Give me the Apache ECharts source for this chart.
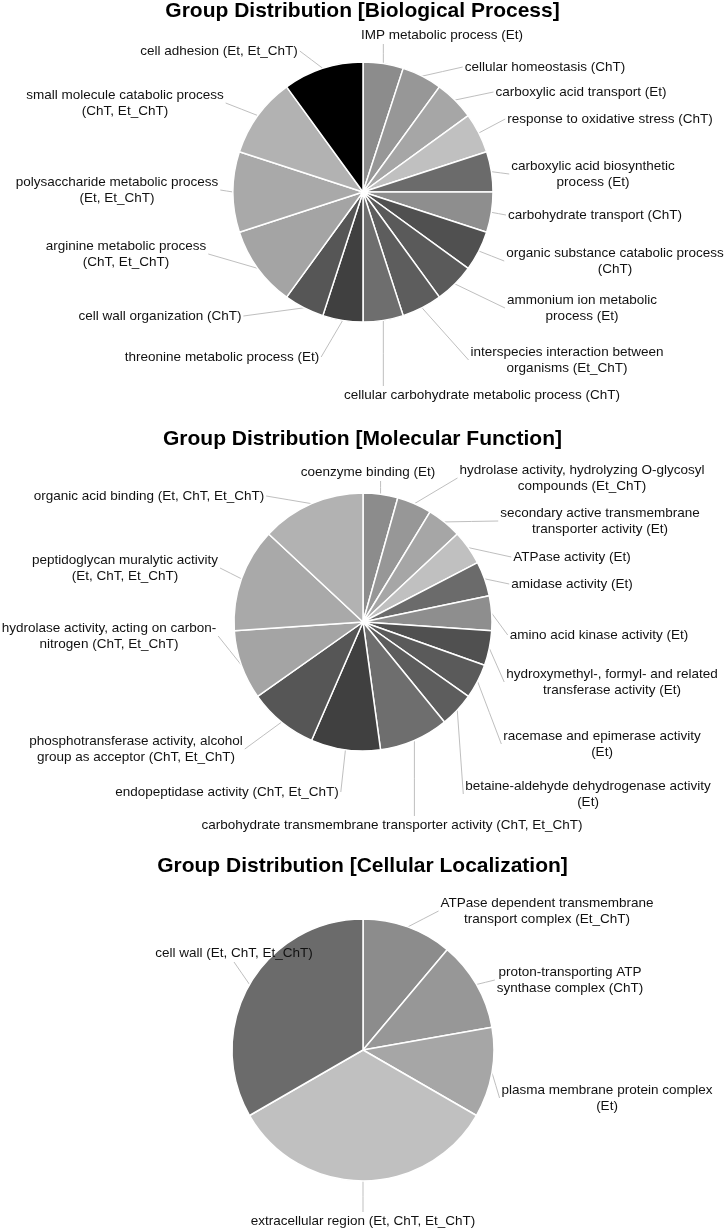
<!DOCTYPE html>
<html><head><meta charset="utf-8">
<script src="https://cdn.jsdelivr.net/npm/echarts@6/dist/echarts.min.js"></script>
<style>html,body{margin:0;padding:0;background:#fff}#c{width:725px;height:1230px}</style>
</head><body><div id="c"></div>
<script>
// ---------- DATA ----------
const titles = [
  'Group Distribution [Biological Process]',
  'Group Distribution [Molecular Function]',
  'Group Distribution [Cellular Localization]'
];
const bpNames = [
  'IMP metabolic process (Et)',
  'cellular homeostasis (ChT)',
  'carboxylic acid transport (Et)',
  'response to oxidative stress (ChT)',
  'carboxylic acid biosynthetic\nprocess (Et)',
  'carbohydrate transport (ChT)',
  'organic substance catabolic process\n(ChT)',
  'ammonium ion metabolic\nprocess (Et)',
  'interspecies interaction between\norganisms (Et_ChT)',
  'cellular carbohydrate metabolic process (ChT)',
  'threonine metabolic process (Et)',
  'cell wall organization (ChT)',
  'arginine metabolic process\n(ChT, Et_ChT)',
  'polysaccharide metabolic process\n(Et, Et_ChT)',
  'small molecule catabolic process\n(ChT, Et_ChT)',
  'cell adhesion (Et, Et_ChT)'
];
const bpValues = [1,1,1,1,1,1,1,1,1,1,1,1,2,2,2,2];

const mfNames = [
  'coenzyme binding (Et)',
  'hydrolase activity, hydrolyzing O-glycosyl\ncompounds (Et_ChT)',
  'secondary active transmembrane\ntransporter activity (Et)',
  'ATPase activity (Et)',
  'amidase activity (Et)',
  'amino acid kinase activity (Et)',
  'hydroxymethyl-, formyl- and related\ntransferase activity (Et)',
  'racemase and epimerase activity\n(Et)',
  'betaine-aldehyde dehydrogenase activity\n(Et)',
  'carbohydrate transmembrane transporter activity (ChT, Et_ChT)',
  'endopeptidase activity (ChT, Et_ChT)',
  'phosphotransferase activity, alcohol\ngroup as acceptor (ChT, Et_ChT)',
  'hydrolase activity, acting on carbon-\nnitrogen (ChT, Et_ChT)',
  'peptidoglycan muralytic activity\n(Et, ChT, Et_ChT)',
  'organic acid binding (Et, ChT, Et_ChT)'
];
const mfValues = [1,1,1,1,1,1,1,1,1,2,2,2,2,3,3];

const clNames = [
  'ATPase dependent transmembrane\ntransport complex (Et_ChT)',
  'proton-transporting ATP\nsynthase complex (ChT)',
  'plasma membrane protein complex\n(Et)',
  'extracellular region (Et, ChT, Et_ChT)',
  'cell wall (Et, ChT, Et_ChT)'
];
const clValues = [1,1,1,3,3];

// ---------- STYLE / LAYOUT ----------
const grays = ['#8c8c8c','#979797','#a6a6a6','#c0c0c0','#6b6b6b','#8e8e8e','#505050','#5a5a5a',
               '#5d5d5d','#6e6e6e','#404040','#565656','#a4a4a4','#a9a9a9','#b2b2b2','#000000'];
const centers = [[363,192],[363,622],[363,1050]];
const radii = [130,129,131];
const titleCenters = [12,440,867];
// label centre positions (x, y) in pixels
const labelPos = [
  [[442,35],[545,67],[581,92],[610,119],[593,174],[595,215],[615,261],[582,308],[567,360],
   [482,395],[222,357],[160,316],[126,254],[117,190],[125,103],[219,51]],
  [[368,472],[582,478],[600,521],[572,557],[572,584],[599,635],[612,682],[602,744],[588,794],
   [392,825],[227,792],[136,749],[109,636],[125,568],[149,496]],
  [[547,911],[570,980],[607,1098],[363,1221],[234,953]]
];
// optional leader attachment override ('bc' = bottom centre)
const labelAnchor = [[], [], [null, null, null, null, 'bc']];

function leader(P, r, anchor) {
  let E;
  if (anchor === 'bc') E = [r.x + r.w / 2, r.y + r.h + 1];
  else if (P[0] < r.x) E = [r.x - 2, r.y + r.h / 2];
  else if (P[0] > r.x + r.w) E = [r.x + r.w + 2, r.y + r.h / 2];
  else if (P[1] < r.y) E = [P[0], r.y - 1];
  else E = [P[0], r.y + r.h + 1];
  return [P, [(P[0] + E[0]) / 2, (P[1] + E[1]) / 2], E];
}

const chart = echarts.init(document.getElementById('c'), null, {renderer: 'canvas'});
const namesList = [bpNames, mfNames, clNames];
const valuesList = [bpValues, mfValues, clValues];

const series = namesList.map((names, si) => ({
  type: 'pie',
  center: centers[si],
  radius: radii[si],
  startAngle: 90,
  clockwise: true,
  avoidLabelOverlap: false,
  animation: false,
  silent: true,
  itemStyle: {borderColor: '#ffffff', borderWidth: 1.5},
  label: {
    show: true, position: 'outside', color: '#111', fontSize: 13.5,
    fontFamily: 'Liberation Sans, Arial, sans-serif', lineHeight: 16, align: 'center'
  },
  labelLine: {show: true, length: 10, length2: 10, lineStyle: {color: '#bfbfbf', width: 1}},
  labelLayout: function (p) {
    const pos = labelPos[p.seriesIndex][p.dataIndex];
    const w = p.labelRect.width, h = p.labelRect.height;
    const rect = {x: pos[0] - w / 2, y: pos[1] - h / 2, w: w, h: h};
    const out = {x: pos[0], y: pos[1], align: 'center', verticalAlign: 'middle'};
    if (p.labelLinePoints && p.labelLinePoints.length) {
      out.labelLinePoints = leader(p.labelLinePoints[0], rect, labelAnchor[p.seriesIndex][p.dataIndex]);
    }
    return out;
  },
  data: names.map((n, i) => ({name: n, value: valuesList[si][i], itemStyle: {color: grays[i]}}))
}));

chart.setOption({
  backgroundColor: '#ffffff',
  animation: false,
  title: titles.map((t, i) => ({
    text: t, left: 'center', top: titleCenters[i] - 11, padding: 0,
    textStyle: {fontFamily: 'Liberation Sans, Arial, sans-serif', fontWeight: 'bold', fontSize: 21, color: '#000'}
  })),
  series: series
});
</script>
</body></html>
